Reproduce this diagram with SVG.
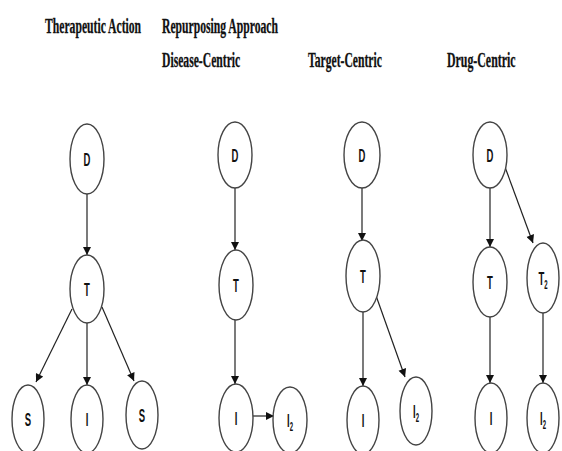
<svg xmlns="http://www.w3.org/2000/svg" width="562" height="451" viewBox="0 0 562 451">
<style>
.title{font-family:"Liberation Serif","Times New Roman",serif;font-weight:bold;font-size:21px;fill:#111;stroke:#111;stroke-width:0.3}
.node ellipse{fill:#fff;stroke:#444;stroke-width:1.4}
.node text{font-family:"Liberation Sans",Arial,sans-serif;font-weight:bold;font-size:19px;fill:#111;text-anchor:middle}
.node tspan.sub{font-size:12px}
#connectors line{stroke:#222;stroke-width:1.2;marker-end:url(#arr)}
</style>
<defs>
<marker id="arr" viewBox="0 0 10 10" refX="10" refY="5" markerWidth="9" markerHeight="8" markerUnits="userSpaceOnUse" orient="auto">
<path d="M0,0 L10,5 L0,10 Z" fill="#111"/>
</marker>
</defs>
<rect width="562" height="451" fill="#fff"/>
<g id="titles">
<text class="title" transform="translate(45,33) scale(0.555,1)">Therapeutic Action</text>
<text class="title" transform="translate(162,33) scale(0.555,1)">Repurposing Approach</text>
<text class="title" transform="translate(162,67) scale(0.555,1)">Disease-Centric</text>
<text class="title" transform="translate(308,67) scale(0.555,1)">Target-Centric</text>
<text class="title" transform="translate(447,67) scale(0.565,1)">Drug-Centric</text>
</g>
<g id="connectors">
<line x1="87" y1="194" x2="87" y2="255"/>
<line x1="72" y1="309" x2="36" y2="382"/>
<line x1="87" y1="323" x2="87" y2="385"/>
<line x1="102" y1="307" x2="134" y2="381"/>
<line x1="235" y1="188" x2="235" y2="250"/>
<line x1="235" y1="320" x2="235" y2="384"/>
<line x1="253" y1="416" x2="274" y2="416"/>
<line x1="362" y1="188" x2="362" y2="241"/>
<line x1="363" y1="311" x2="363" y2="386"/>
<line x1="374" y1="290" x2="405" y2="377"/>
<line x1="490" y1="188" x2="490" y2="247"/>
<line x1="505" y1="167" x2="533" y2="243"/>
<line x1="490" y1="317" x2="490" y2="383"/>
<line x1="543" y1="313" x2="543" y2="383"/>
</g>
<g id="n-c1-D" class="node"><ellipse cx="87" cy="159" rx="17" ry="35"/><text transform="translate(87,166) scale(0.5,1)">D</text></g>
<g id="n-c1-T" class="node"><ellipse cx="87" cy="289" rx="17" ry="34"/><text transform="translate(87,296) scale(0.5,1)">T</text></g>
<g id="n-c1-S1" class="node"><ellipse cx="28" cy="419" rx="16" ry="34"/><text transform="translate(28,426) scale(0.5,1)">S</text></g>
<g id="n-c1-I" class="node"><ellipse cx="87" cy="419" rx="16" ry="34"/><text transform="translate(87,426) scale(0.5,1)">I</text></g>
<g id="n-c1-S2" class="node"><ellipse cx="142" cy="415" rx="16" ry="34"/><text transform="translate(142,422) scale(0.5,1)">S</text></g>
<g id="n-c2-D" class="node"><ellipse cx="235" cy="155" rx="17" ry="33"/><text transform="translate(235,162) scale(0.5,1)">D</text></g>
<g id="n-c2-T" class="node"><ellipse cx="236" cy="285" rx="17" ry="35"/><text transform="translate(236,292) scale(0.5,1)">T</text></g>
<g id="n-c2-I" class="node"><ellipse cx="236" cy="418" rx="17" ry="34"/><text transform="translate(236,425) scale(0.5,1)">I</text></g>
<g id="n-c2-I2" class="node"><ellipse cx="290" cy="420" rx="17" ry="33"/><text transform="translate(290,427) scale(0.5,1)">I<tspan class="sub" dy="4">2</tspan></text></g>
<g id="n-c3-D" class="node"><ellipse cx="362" cy="155" rx="18" ry="33"/><text transform="translate(362,162) scale(0.5,1)">D</text></g>
<g id="n-c3-T" class="node"><ellipse cx="363" cy="276" rx="17" ry="36"/><text transform="translate(363,283) scale(0.5,1)">T</text></g>
<g id="n-c3-I" class="node"><ellipse cx="363" cy="420" rx="16" ry="34"/><text transform="translate(363,427) scale(0.5,1)">I</text></g>
<g id="n-c3-I2" class="node"><ellipse cx="416" cy="411" rx="16" ry="34"/><text transform="translate(416,418) scale(0.5,1)">I<tspan class="sub" dy="4">2</tspan></text></g>
<g id="n-c4-D" class="node"><ellipse cx="490" cy="155" rx="17" ry="33"/><text transform="translate(490,162) scale(0.5,1)">D</text></g>
<g id="n-c4-T" class="node"><ellipse cx="490" cy="282" rx="17" ry="35"/><text transform="translate(490,289) scale(0.5,1)">T</text></g>
<g id="n-c4-T2" class="node"><ellipse cx="543" cy="278" rx="16" ry="35"/><text transform="translate(543,285) scale(0.5,1)">T<tspan class="sub" dy="4">2</tspan></text></g>
<g id="n-c4-I" class="node"><ellipse cx="491" cy="418" rx="16" ry="35"/><text transform="translate(491,425) scale(0.5,1)">I</text></g>
<g id="n-c4-I2" class="node"><ellipse cx="543" cy="418" rx="16" ry="35"/><text transform="translate(543,425) scale(0.5,1)">I<tspan class="sub" dy="4">2</tspan></text></g>
</svg>
